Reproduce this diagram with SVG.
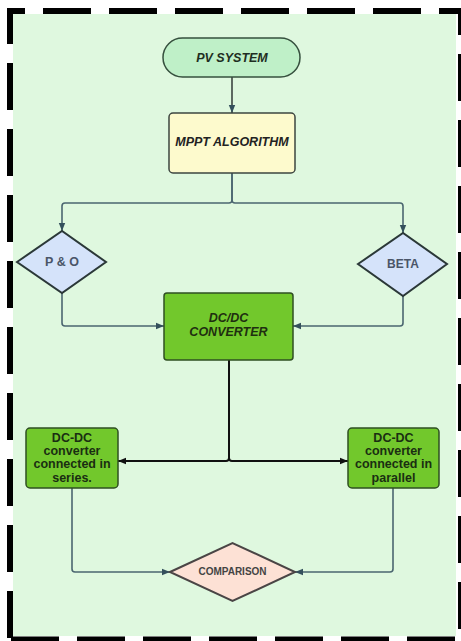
<svg xmlns="http://www.w3.org/2000/svg" width="461" height="641" viewBox="0 0 461 641">
<defs>
<style>
.lbl{font-family:"Liberation Sans",Arial,sans-serif;font-weight:bold;text-anchor:middle;dominant-baseline:central}
.it{font-style:italic}
.conn{fill:none;stroke:#4b6670;stroke-width:1.6}
.blk{fill:none;stroke:#111;stroke-width:2}
.brd{stroke:#000;fill:none}
.gbox{fill:#72c82c;stroke:#2f4f22;stroke-width:1.5}
.dia{fill:#d5e3fa;stroke:#2b3838;stroke-width:2}
</style>
<marker id="ah" viewBox="0 0 10 10" refX="10" refY="5" markerWidth="8" markerHeight="8" markerUnits="userSpaceOnUse" orient="auto"><path d="M0,1 L10,5 L0,9 z" fill="#34505c"/></marker>
<marker id="ahk" viewBox="0 0 10 10" refX="10" refY="5" markerWidth="8" markerHeight="8" markerUnits="userSpaceOnUse" orient="auto"><path d="M0,1 L10,5 L0,9 z" fill="#111"/></marker>
</defs>
<rect x="13" y="14" width="443" height="622" fill="#dff8df"/>
<g id="border" class="brd">
<line x1="7" y1="11" x2="461" y2="11" stroke-width="6" stroke-dasharray="48 18" stroke-dashoffset="30"/>
<line x1="10" y1="8" x2="10" y2="641" stroke-width="6" stroke-dasharray="47 19" stroke-dashoffset="11"/>
<line x1="11" y1="639" x2="461" y2="639" stroke-width="5" stroke-dasharray="48 18"/>
<line x1="459.5" y1="8" x2="459.5" y2="641" stroke-width="3" stroke-dasharray="47 19" stroke-dashoffset="20"/>
</g>
<g id="connectors">
<path class="conn" style="stroke:#3b4540" d="M232,77 V113" marker-end="url(#ah)"/>
<path class="conn" d="M232,173 V200 Q232,203 229,203 H65 Q62,203 62,206 V231" marker-end="url(#ah)"/>
<path class="conn" d="M232,173 V200 Q232,203 235,203 H400 Q403,203 403,206 V233" marker-end="url(#ah)"/>
<path class="conn" d="M62,293 V323 Q62,326 65,326 H164" marker-end="url(#ah)"/>
<path class="conn" d="M403,296 V323 Q403,326 400,326 H293" marker-end="url(#ah)"/>
<path class="blk" d="M229,360 V458 Q229,461 226,461 H118" marker-end="url(#ahk)"/>
<path class="blk" d="M229,360 V458 Q229,461 232,461 H348" marker-end="url(#ahk)"/>
<path class="conn" d="M72,488 V569 Q72,572 75,572 H170" marker-end="url(#ah)"/>
<path class="conn" d="M393,488 V569 Q393,572 390,572 H295" marker-end="url(#ah)"/>
</g>
<g id="pv">
<rect x="163" y="38" width="137" height="39" rx="19.5" fill="#bff0c8" stroke="#36503e" stroke-width="1.5"/>
<text class="lbl it" x="232" y="57.5" font-size="12.5" fill="#1e2e22">PV SYSTEM</text>
</g>
<g id="mppt">
<rect x="169" y="113" width="126" height="60" rx="4" fill="#fdfacd" stroke="#3d4540" stroke-width="1.5"/>
<text class="lbl it" x="232" y="142" font-size="12.5" fill="#222">MPPT ALGORITHM</text>
</g>
<g id="po">
<polygon class="dia" points="17,262 62,231 106,262 62,293"/>
<text class="lbl" x="62" y="262" font-size="12.5" fill="#4a5568">P &amp; O</text>
</g>
<g id="beta">
<polygon class="dia" points="358,264 403,233 447,264 403,296"/>
<text class="lbl" x="403" y="264" font-size="12" fill="#4a5568">BETA</text>
</g>
<g id="dcdc">
<rect class="gbox" x="164" y="293" width="129" height="67" rx="3"/>
<text class="lbl it" x="228.5" y="318" font-size="12.5" fill="#1f2f10">DC/DC</text>
<text class="lbl it" x="228.5" y="332" font-size="12.5" fill="#1f2f10">CONVERTER</text>
</g>
<g id="series">
<rect class="gbox" x="26" y="428" width="92" height="60" rx="4"/>
<text class="lbl" x="72" y="437.5" font-size="12.5" fill="#1a2e12">DC-DC</text>
<text class="lbl" x="72" y="451" font-size="12.5" fill="#1a2e12">converter</text>
<text class="lbl" x="72" y="464" font-size="12.5" fill="#1a2e12">connected in</text>
<text class="lbl" x="72" y="477.5" font-size="12.5" fill="#1a2e12">series.</text>
</g>
<g id="parallel">
<rect class="gbox" x="348" y="428" width="91" height="60" rx="4"/>
<text class="lbl" x="393.5" y="437.5" font-size="12.5" fill="#1a2e12">DC-DC</text>
<text class="lbl" x="393.5" y="451" font-size="12.5" fill="#1a2e12">converter</text>
<text class="lbl" x="393.5" y="464" font-size="12.5" fill="#1a2e12">connected in</text>
<text class="lbl" x="393.5" y="477.5" font-size="12.5" fill="#1a2e12">parallel</text>
</g>
<g id="comparison">
<polygon points="170,572 232.5,543 295,572 232.5,601" fill="#fde1d5" stroke="#4a4545" stroke-width="2"/>
<text class="lbl" x="232.5" y="571.5" font-size="10" fill="#444">COMPARISON</text>
</g>
</svg>
